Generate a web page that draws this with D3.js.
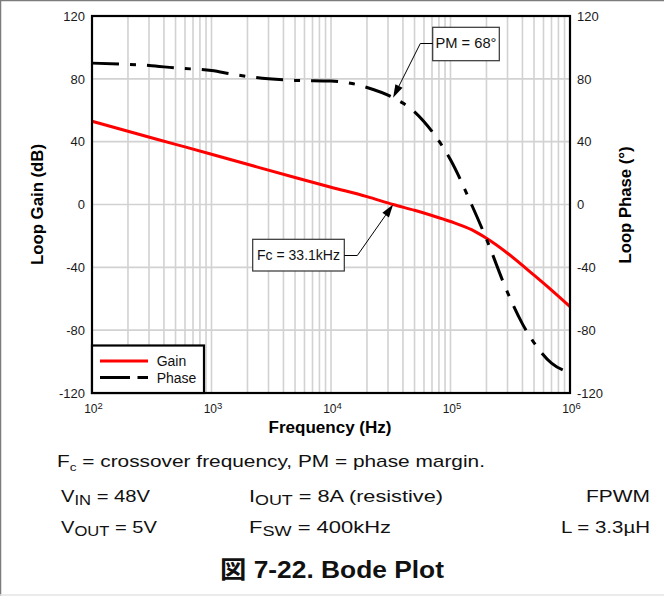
<!DOCTYPE html>
<html><head><meta charset="utf-8">
<script src="https://cdn.jsdelivr.net/npm/d3@7"></script>
<style>
body{margin:0;background:#fff}
svg{display:block}
</style>
</head><body>
<svg id="c" width="664" height="596"></svg>
<script>
// ---------------- data ----------------
const gainFreqs = [100,200,500,1000,2000,5000,10000,20000,33100,50000,70000,100000,150000,200000,300000,500000,700000,1000000];
const gainDb    = [53,46.6,38.3,32,25.6,17.2,11,5,0,-3.7,-7,-10.8,-16,-21.5,-31,-45,-54.5,-65];
const phaseFreqs = [100,200,300,500,1000,1500,2000,3000,5000,10000,15000,20000,33100,50000,70000,100000,150000,200000,300000,400000,500000,700000,1000000];
const phaseDeg   = [90,89.2,88.5,86.9,85.3,83,81.5,80,79,78.6,77,74.5,68,59,46.5,28.5,0,-22,-56,-76,-88,-101,-107];
const yTickValues = [-120,-80,-40,0,40,80,120];
const xDecadeExps = [2,3,4,5,6];
const seriesNames = ["Gain","Phase"];
const crossoverHz = 33100;
const phaseMarginDeg = 68;
const pmLabel = "PM = 68°";
const fcLabel = "Fc = 33.1kHz";

// ---------------- setup ----------------
const FONT = '"Liberation Sans", Arial, Helvetica, sans-serif';
const W = 664, H = 596;
const svg = d3.select("#c").attr("font-family", FONT);
svg.append("rect").attr("width", W).attr("height", H).attr("fill", "#fff");
// outer frame
svg.append("line").attr("x1",0).attr("x2",W).attr("y1",0.6).attr("y2",0.6).attr("stroke","#7c7c7c").attr("stroke-width",1.3);
svg.append("line").attr("x1",0.6).attr("x2",0.6).attr("y1",0).attr("y2",H).attr("stroke","#7c7c7c").attr("stroke-width",1.3);
svg.append("line").attr("x1",0).attr("x2",W).attr("y1",595).attr("y2",595).attr("stroke","#e4e4e4").attr("stroke-width",1.5);

const L = 92, R = 570, T = 16, B = 393;
const x = d3.scaleLog().domain([1e2, 1e6]).range([L, R]);
const yG = d3.scaleLinear().domain([-120, 120]).range([B, T]);
const yP = d3.scaleLinear().domain([-120, 120]).range([B, T]);

// grid
const grid = svg.append("g").attr("stroke", "#d2d2d2").attr("stroke-width", 1.6);
grid.selectAll("line.v").data(x.ticks()).join("line")
  .attr("x1", d => x(d)).attr("x2", d => x(d)).attr("y1", T).attr("y2", B);
grid.selectAll("line.h").data(yTickValues).join("line")
  .attr("x1", L).attr("x2", R).attr("y1", d => yG(d)).attr("y2", d => yG(d));

// curves
const gainData = gainFreqs.map((f, i) => ({f, v: gainDb[i]}));
const phaseData = phaseFreqs.map((f, i) => ({f, v: phaseDeg[i]}));
const gainLine = d3.line().x(d => x(d.f)).y(d => yG(d.v)).curve(d3.curveMonotoneX);
const phaseLine = d3.line().x(d => x(d.f)).y(d => yP(d.v)).curve(d3.curveMonotoneX);

svg.append("path").datum(gainData).attr("d", gainLine)
  .attr("fill", "none").attr("stroke", "#ff0000").attr("stroke-width", 3);
svg.append("path").datum(phaseData).attr("d", phaseLine)
  .attr("fill", "none").attr("stroke", "#000").attr("stroke-width", 3)
  .attr("stroke-dasharray", "27,11,6,11");

// frame
svg.append("rect").attr("x", L).attr("y", T).attr("width", R - L).attr("height", B - T)
  .attr("fill", "none").attr("stroke", "#000").attr("stroke-width", 2.2);

// axes
const axL = svg.append("g").attr("transform", `translate(${L},0)`)
  .call(d3.axisLeft(yG).tickValues(yTickValues).tickSize(0).tickPadding(7).tickFormat(d => String(d)));
const axR = svg.append("g").attr("transform", `translate(${R},0)`)
  .call(d3.axisRight(yP).tickValues(yTickValues).tickSize(0).tickPadding(7).tickFormat(d => String(d)));
[axL, axR].forEach(a => {
  a.select(".domain").remove();
  a.attr("font-size", 13).attr("font-family", FONT);
  a.selectAll("text").attr("fill", "#1a1a1a");
});
const axB = svg.append("g").attr("transform", `translate(0,${B})`)
  .call(d3.axisBottom(x).tickValues(xDecadeExps.map(e => Math.pow(10, e))).tickSize(0).tickPadding(11).tickFormat(() => "10"));
axB.select(".domain").remove();
axB.attr("font-size", 12).attr("font-family", FONT);
axB.selectAll(".tick text").attr("fill", "#1a1a1a").attr("x", 1).each(function(d, i) {
  d3.select(this).append("tspan").attr("font-size", 9.5).attr("dy", -3.8).text(xDecadeExps[i]);
});

// axis titles
svg.append("text").attr("transform", "translate(42.5,204.5) rotate(-90)")
  .attr("text-anchor", "middle").attr("font-weight", "bold").attr("font-size", 16)
  .attr("textLength", 121).attr("lengthAdjust", "spacingAndGlyphs").text("Loop Gain (dB)");
svg.append("text").attr("transform", "translate(631,205) rotate(-90)")
  .attr("text-anchor", "middle").attr("font-weight", "bold").attr("font-size", 16)
  .attr("textLength", 117).attr("lengthAdjust", "spacingAndGlyphs").text("Loop Phase (°)");
svg.append("text").attr("x", 330).attr("y", 433.3)
  .attr("text-anchor", "middle").attr("font-weight", "bold").attr("font-size", 16)
  .attr("textLength", 123).attr("lengthAdjust", "spacingAndGlyphs").text("Frequency (Hz)");

// legend
const lg = svg.append("g");
lg.append("rect").attr("x", L).attr("y", 345.5).attr("width", 112).attr("height", B - 345.5)
  .attr("fill", "#fff").attr("stroke", "#000").attr("stroke-width", 2.2);
lg.append("line").attr("x1", 100).attr("x2", 148).attr("y1", 361).attr("y2", 361)
  .attr("stroke", "#ff0000").attr("stroke-width", 3.2);
lg.append("line").attr("x1", 100).attr("x2", 148).attr("y1", 377.5).attr("y2", 377.5)
  .attr("stroke", "#000").attr("stroke-width", 3.2).attr("stroke-dasharray", "30,7.5,10.5,100");
lg.append("text").attr("x", 156.7).attr("y", 366).attr("font-size", 14).attr("fill", "#111").text(seriesNames[0]);
lg.append("text").attr("x", 156.7).attr("y", 382.7).attr("font-size", 14).attr("fill", "#111").text(seriesNames[1]);

// annotations
function arrow(points) {
  const n = points.length;
  const tip = points[n - 1], prev = points[n - 2];
  const dx = tip[0] - prev[0], dy = tip[1] - prev[1];
  const len = Math.hypot(dx, dy), ux = dx / len, uy = dy / len;
  const al = 13, hw = 4;
  const bx = tip[0] - ux * al, by = tip[1] - uy * al;
  const pts = points.slice(0, n - 1).concat([[bx, by]]);
  svg.append("path").attr("d", d3.line()(pts)).attr("fill", "none").attr("stroke", "#000").attr("stroke-width", 1);
  svg.append("path").attr("d", d3.line()([[tip[0], tip[1]], [bx - uy * hw, by + ux * hw], [bx + uy * hw, by - ux * hw]]) + "Z")
    .attr("fill", "#000");
}
// PM box
svg.append("rect").attr("x", 432.7).attr("y", 27.3).attr("width", 66.6).attr("height", 33.4)
  .attr("fill", "#fff").attr("stroke", "#333").attr("stroke-width", 1.2);
svg.append("text").attr("x", 466).attr("y", 47.8).attr("text-anchor", "middle").attr("font-size", 14)
  .attr("textLength", 61).attr("lengthAdjust", "spacingAndGlyphs").attr("fill", "#111").text(pmLabel);
arrow([[432.7, 43.5], [420.3, 43.5], [x(crossoverHz), yP(phaseMarginDeg)]]);
// Fc box
svg.append("rect").attr("x", 252.7).attr("y", 239.3).attr("width", 91.6).attr("height", 31.7)
  .attr("fill", "#fff").attr("stroke", "#333").attr("stroke-width", 1.2);
svg.append("text").attr("x", 298.5).attr("y", 260.2).attr("text-anchor", "middle").attr("font-size", 14)
  .attr("textLength", 83).attr("lengthAdjust", "spacingAndGlyphs").attr("fill", "#111").text(fcLabel);
arrow([[344.3, 255.5], [357.3, 255.5], [x(crossoverHz), yG(0)]]);

// notes
function rich(xp, yp, parts, o) {
  const t = svg.append("text").attr("x", xp).attr("y", yp).attr("font-size", o.size || 17)
    .attr("text-anchor", o.anchor || "start").attr("fill", "#111")
    .attr("font-weight", o.weight || "normal");
  if (o.family) t.attr("font-family", o.family);
  let off = 0;
  parts.forEach(([s, k]) => {
    const ts = t.append("tspan").text(s);
    let want = 0;
    if (k === "sub") { ts.attr("font-size", o.subSize || 14); want = o.subShift || 3; }
    ts.attr("dy", want - off);
    off = want;
  });
  if (o.len) t.attr("textLength", o.len).attr("lengthAdjust", "spacingAndGlyphs");
  return t;
}
rich(57, 466.7, [["F"], ["c", "sub"], [" = crossover frequency, PM = phase margin."]], {len: 428, subSize: 11, subShift: 4});
rich(61, 501.5, [["V"], ["IN", "sub"], [" = 48V"]], {len: 89});
rich(249, 501.5, [["I"], ["OUT", "sub"], [" = 8A (resistive)"]], {len: 194});
rich(650, 501.5, [["FPWM"]], {len: 64, anchor: "end"});
rich(61, 532.5, [["V"], ["OUT", "sub"], [" = 5V"]], {len: 96});
rich(249, 532.5, [["F"], ["SW", "sub"], [" = 400kHz"]], {len: 142});
rich(650, 532.5, [["L = 3.3µH"]], {len: 89, anchor: "end"});
rich(220, 578.3, [["図 7-22. Bode Plot"]], {size: 24, weight: "bold", len: 224,
  family: '"Liberation Sans", Arial, "Noto Sans CJK JP", sans-serif'});
</script>
</body></html>
